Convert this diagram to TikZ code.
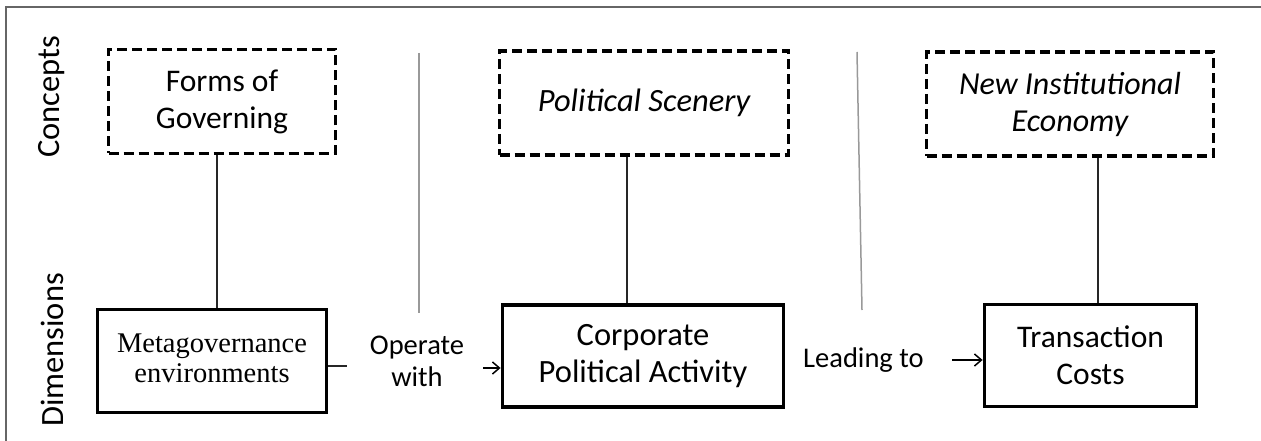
\documentclass[tikz,border=0pt]{standalone}
\usepackage{fontspec}
\setmainfont{Carlito}
\newfontfamily\metaserif{Liberation Serif}
\usetikzlibrary{arrows.meta}
\tikzset{
  conceptbox/.style={draw, line width=3.6pt, dash pattern=on 10pt off 5pt, minimum height=104pt,
    align=center, inner sep=0pt, font=\fontsize{31.5}{37}\selectfont},
  dimbox/.style={draw, line width=3.8pt, minimum height=102pt, align=center, inner sep=0pt,
    font=\fontsize{31.5}{37}\selectfont},
  link/.style={line width=1.8pt, draw=black!85},
  sepline/.style={line width=1.5pt, draw=black!40},
  sidelabel/.style={rotate=90, inner sep=0pt, font=\fontsize{32.5}{38}\selectfont},
  midlabel/.style={align=center, inner sep=0pt, font=\fontsize{28.5}{32}\selectfont},
  arr/.style={line width=1.5pt, -{Straight Barb[length=7pt,width=12pt]}},
  frameline/.style={line width=1.5pt, draw=black!60}
}
\begin{document}
\begin{tikzpicture}[x=1pt,y=-1pt]
\useasboundingbox (0,0) rectangle (1261,441);
% frame
\draw[frameline] (6,441) -- (6,7) -- (1261,7);
% side labels
\node[sidelabel] (concepts) at (52,97) {Concepts};
\node[sidelabel] (dimensions) at (52,350) {Dimensions};
% concept boxes
\node[conceptbox, minimum width=227pt] (fog) at (222,101.5) {Forms of\\Governing};
\node[conceptbox, minimum width=289pt, font=\fontsize{32.5}{37}\selectfont] (ps) at (644,103) {\itshape Political Scenery};
\node[conceptbox, minimum width=287pt, font=\fontsize{32}{37}\selectfont] (nie) at (1070,104) {\itshape New Institutional\\\itshape Economy};
% dimension boxes
\node[dimbox, minimum width=229pt, minimum height=103pt, font=\metaserif\fontsize{28.5}{30}\selectfont] (meta) at (212,361)
  {\raisebox{4pt}{\begin{tabular}{@{}c@{}}Metagovernance\\environments\end{tabular}}};
\node[dimbox, minimum width=281pt, font=\fontsize{32.5}{37}\selectfont] (cpa) at (643,356) {Corporate\\Political Activity};
\node[dimbox, minimum width=212pt] (tc) at (1090.5,355.5) {Transaction\\Costs};
% vertical connectors
\coordinate (x1) at (217,0);
\coordinate (x2) at (627,0);
\coordinate (x3) at (1098,0);
\draw[link] (fog.south -| x1) -- (meta.north -| x1);
\draw[link] (ps.south -| x2) -- (cpa.north -| x2);
\draw[link] (nie.south -| x3) -- (tc.north -| x3);
% separators
\coordinate (s1a) at (419,53);
\coordinate (s1b) at (419,313);
\coordinate (s2a) at (857,52);
\coordinate (s2b) at (862,310);
\draw[sepline] (s1a) -- (s1b);
\draw[sepline] (s2a) -- (s2b);
% horizontal links
\node[midlabel] (opw) at (417,361) {Operate\\with};
\node[midlabel, anchor=west] (lead) at (803,360) {Leading to};
\coordinate (st1) at (347,366);
\draw[link] (st1 -| meta.east) -- (st1);
\coordinate (a1) at (483,368);
\draw[arr] (a1) -- (a1 -| cpa.west);
\coordinate (a2) at (952,360);
\draw[arr] (a2) -- (a2 -| tc.west);
\end{tikzpicture}
\end{document}
